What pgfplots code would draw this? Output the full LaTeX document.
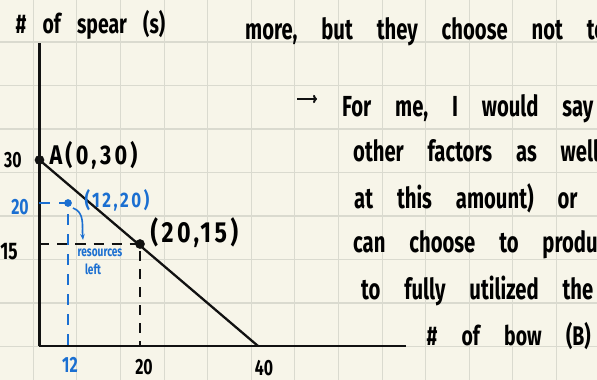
\documentclass[border=0pt]{standalone}
\usepackage{pgfplots}
\pgfplotsset{compat=1.18}
\usetikzlibrary{arrows.meta}
\usepackage{fontspec}
\setmainfont{Fira Sans}
\newfontfamily\notes{Fira Sans}[FakeStretch=0.72]
\newfontfamily\wide{Fira Sans}[FakeStretch=0.8, LetterSpace=12]
\definecolor{paper}{HTML}{F7F5E9}
\definecolor{gridline}{HTML}{DADACF}
\definecolor{ink}{HTML}{111111}
\definecolor{blueink}{HTML}{1B6FD1}
% text set in the note-taking style: condensed, heavy, widely spaced
\newcommand{\hand}[2][0.85]{\notes\bfseries\fontsize{#2}{#2}\selectfont\spaceskip=#1em plus 0.1em}
\newcommand{\pt}[1]{\wide\bfseries\fontsize{#1}{#1}\selectfont}
% a line of the notes
\newcommand{\note}[1]{\scalebox{0.97}[1]{\hand{29}#1}}
\begin{document}
\begin{tikzpicture}[x=1pt,y=1pt]
\useasboundingbox (0,0) rectangle (597,380);
\clip (0,0) rectangle (597,380);
% squared notebook paper
\fill[paper] (0,0) rectangle (597,380);
\foreach \i in {0,...,12} \draw[gridline, line width=1.1pt] ({33.3+43.6*\i},0) -- ++(0,380);
\foreach \j in {0,...,7} \draw[gridline, line width=1.1pt] (0,{338-43.5*\j}) -- ++(597,0);

\begin{axis}[
  at={(39.5,34)}, anchor=south west,
  x=1pt, y=1pt,
  % hand-drawn scale: piecewise linear in each direction
  x coord trafo/.code={\pgfmathparse{(#1<=12)*(#1*2.375) + (#1>12)*(#1<=20)*(28.5+(#1-12)*9) + (#1>20)*(100.5+(#1-20)*5.9)}},
  y coord trafo/.code={\pgfmathparse{(#1<=15)*(#1*6.8) + (#1>15)*(#1<=20)*(102+(#1-15)*8.2) + (#1>20)*(143+(#1-20)*4.3)}},
  xmin=0, xmax=65.08, ymin=0, ymax=57.2,
  axis x line=bottom, axis y line=left,
  axis line style={ink, line width=2.6pt, -},
  xtick=\empty, ytick=\empty,
  clip=false,
  xlabel={\# of bow (B)}, ylabel={\# of spear (s)},
  every axis x label/.style={at={(axis description cs:1.0464,0.0033)}, anchor=base west, font=\hand[0.9]{27}},
  every axis y label/.style={at={(axis description cs:-0.075,1.033)}, anchor=base west, font=\hand[0.6]{27}},
]
% production possibility frontier
\addplot[ink, line width=2.3pt] coordinates {(0,30) (40,0)};
% guide lines
\addplot[ink, line width=1.3pt, dash pattern=on 10pt off 8pt] coordinates {(0,15) (20,15) (20,0)};
\addplot[blueink, line width=1.3pt, dash pattern=on 11pt off 9pt] coordinates {(0,20) (12,20) (12,0)};
% points
\addplot[only marks, mark=*, mark size=4.6pt, ink] coordinates {(0,30) (20,15)};
\addplot[only marks, mark=*, mark size=3.6pt, blueink] coordinates {(12,20)};
% point labels
\node[anchor=west, font=\pt{27}, xshift=6.5pt, yshift=5pt] at (axis cs:0,30) {A(0,30)};
\node[anchor=west, font=\pt{29}, xshift=7pt, yshift=11pt] at (axis cs:20,15) {(20,15)};
\node[anchor=west, font=\pt{21}, text=blueink, xshift=13pt, yshift=3pt] at (axis cs:12,20) {(12,20)};
% axis values
\node[font=\hand{22}, xshift=-26.5pt] at (axis cs:0,30) {30};
\node[font=\hand{24}, xshift=-30.5pt, yshift=-8pt] at (axis cs:0,15) {15};
\node[font=\hand{22}, text=blueink, xshift=-19.5pt, yshift=-4pt] at (axis cs:0,20) {20};
\node[font=\hand{22}, text=blueink, xshift=2pt, yshift=-19pt] at (axis cs:12,0) {12};
\node[font=\hand{22}, xshift=4pt, yshift=-21pt] at (axis cs:20,0) {20};
\node[font=\hand{22}, xshift=6pt, yshift=-22pt] at (axis cs:40,0) {40};
% note on unused resources
\node[font=\hand{14}, text=blueink, xshift=32pt, yshift=-50pt] at (axis cs:12,20) {resources};
\node[font=\hand{14}, text=blueink, xshift=25pt, yshift=-66pt] at (axis cs:12,20) {left};
\end{axis}
\draw[blueink, line width=1.6pt, -{Stealth[length=6pt]}] (73,172) to[out=-20, in=95] (83,140);

% notes beside the graph
\node[anchor=base west, inner sep=0pt] at (245,340) {\note{more, but they choose not to}};
\draw[ink, line width=2pt, -{To[length=4pt]}] (297,281) -- (317,281);
\node[anchor=base west, inner sep=0pt] at (342,263) {\note{For me, I would say}};
\node[anchor=base west, inner sep=0pt] at (353,218) {\note{other factors as well}};
\node[anchor=base west, inner sep=0pt] at (354,171) {\note{at this amount) or if}};
\node[anchor=base west, inner sep=0pt] at (353,127) {\note{can choose to produce}};
\node[anchor=base west, inner sep=0pt] at (361,80) {\note{to fully utilized the}};
\end{tikzpicture}
\end{document}
